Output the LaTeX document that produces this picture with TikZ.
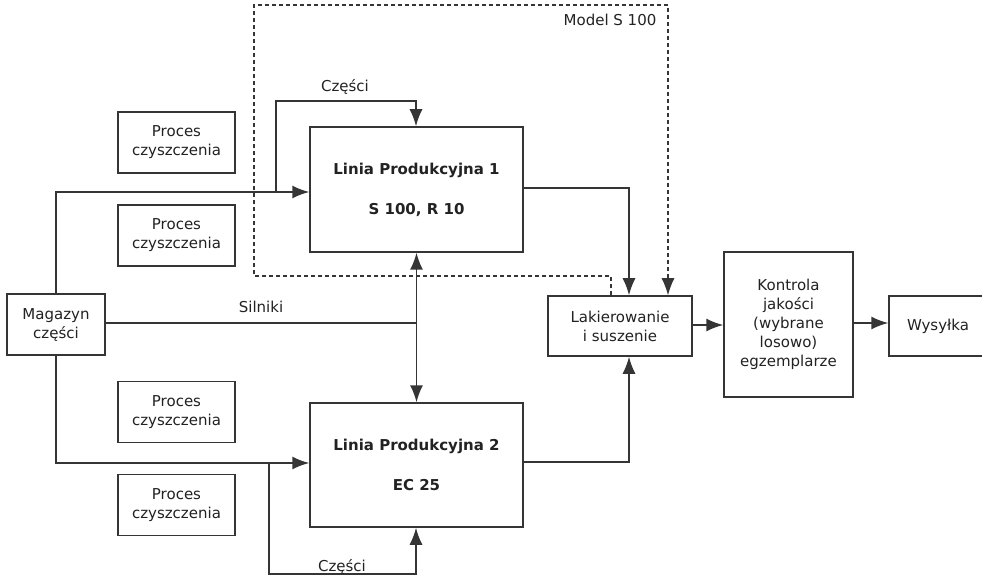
\documentclass[tikz,border=0pt]{standalone}
\usepackage{fontspec}
\setmainfont{DejaVu Sans}
\usetikzlibrary{arrows.meta}
\definecolor{ln}{HTML}{353535}
\definecolor{tx}{HTML}{222222}
\tikzset{
  box/.style={draw=ln, line width=1.5pt, fill=white, align=center, text=tx, inner sep=2pt,
    font=\fontsize{15}{19}\selectfont},
  conn/.style={draw=ln, line width=1.5pt},
  tip/.style={-{Latex[length=17pt,width=13pt]}},
  arr/.style={conn, tip},
  biarr/.style={conn, {Latex[length=17pt,width=13pt]}-{Latex[length=17pt,width=13pt]}},
  dsh/.style={draw=ln, line width=1.2pt, dash pattern=on 4pt off 3pt},
  lbl/.style={text=tx, font=\fontsize{15}{19}\selectfont, inner sep=0pt}
}
\begin{document}
\begin{tikzpicture}[x=1pt,y=-1pt]
\useasboundingbox (0,0) rectangle (982,585);
\clip (0,0) rectangle (982,585);

% boxes
\node[box, minimum width=213pt, minimum height=125pt] (lp1) at (416.5,189.5)
  {\bfseries Linia Produkcyjna 1\\[21pt]\bfseries S 100, R 10};
\node[box, minimum width=213pt, minimum height=124pt] (lp2) at (416.5,465)
  {\bfseries Linia Produkcyjna 2\\[21pt]\bfseries EC 25};
\node[box, minimum width=117pt, minimum height=61pt] (pc1) at (176.5,142.5) {Proces\\czyszczenia};
\node[box, minimum width=117pt, minimum height=61pt] (pc2) at (176.5,235.5) {Proces\\czyszczenia};
\node[box, minimum width=117pt, minimum height=61pt] (pc3) at (176.5,412) {Proces\\czyszczenia};
\node[box, minimum width=117pt, minimum height=61pt] (pc4) at (176.5,505) {Proces\\czyszczenia};
\node[box, minimum width=98pt, minimum height=61pt] (mag) at (56,324.5) {Magazyn\\części};
\node[box, minimum width=144pt, minimum height=60pt] (lak) at (620,326) {Lakierowanie\\i suszenie};
\node[box, minimum width=129pt, minimum height=145pt] (kon) at (788.5,324.5)
  {Kontrola\\jakości\\(wybrane\\losowo)\\egzemplarze};
\node[box, minimum width=98pt, minimum height=60pt] (wys) at (938,326) {Wysyłka};

% helper coordinates
\coordinate (b1) at (276,192);
\coordinate (t1) at (276,101);
\coordinate (t2) at (416,101);
\coordinate (s1) at (416,323);
\coordinate (b2) at (269,463);
\coordinate (u1) at (269,574);
\coordinate (u2) at (416,574);
\coordinate (r1) at (629,188);
\coordinate (r2) at (629,462);
\coordinate (d1) at (611,276);
\coordinate (d2) at (254,276);
\coordinate (d3) at (254,5);
\coordinate (d4) at (668,5);

% connectors
\draw[arr] (mag.north) |- (b1) -- (lp1.west |- b1);
\draw[arr] (b1) -- (t1) -- (t2) -- (t2 |- lp1.north);
\draw[conn] (mag.east |- s1) -- (s1);
\draw[biarr] (lp1.south) -- (lp2.north);
\draw[arr] (mag.south) |- (b2) -- (lp2.west |- b2);
\draw[arr] (b2) -- (u1) -- (u2) -- (u2 |- lp2.south);
\draw[arr] (lp1.east |- r1) -- (r1) -- (r1 |- lak.north);
\draw[arr] (lp2.east |- r2) -- (r2) -- (r2 |- lak.south);
\draw[arr] (lak.east |- 0,325) -- (kon.west |- 0,325);
\draw[arr] (kon.east |- 0,323) -- (wys.west |- 0,323);

% dashed region
\draw[dsh] (d1 |- lak.north) -- (d1) -- (d2) -- (d3) -- (d4) -- (d4 |- 0,280);
\draw[draw=ln, line width=1.2pt, tip] (d4 |- 0,279) -- (d4 |- lak.north);

% labels
\node[lbl] (lm) at (610,20) {Model S 100};
\node[lbl] (lc1) at (345,87) {Części};
\node[lbl] (ls) at (261,307) {Silniki};
\node[lbl] (lc2) at (342,567) {Części};
\end{tikzpicture}
\end{document}
